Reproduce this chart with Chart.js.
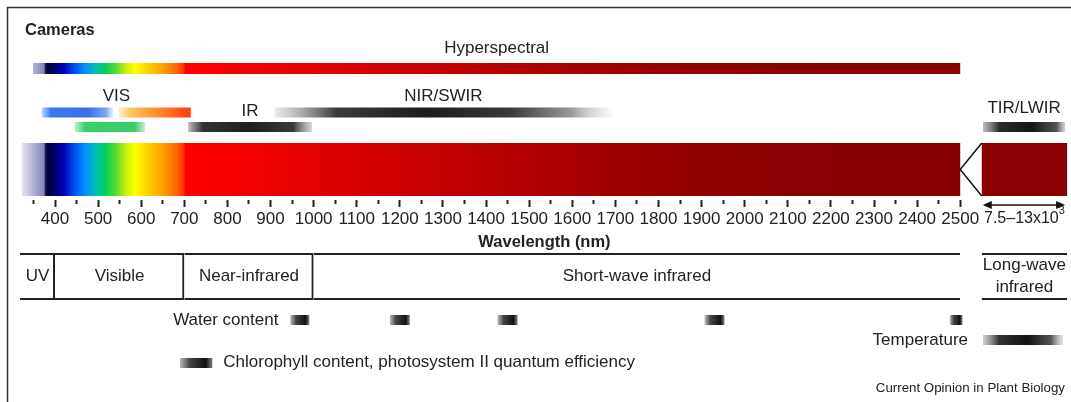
<!DOCTYPE html>
<html>
<head>
<meta charset="utf-8">
<script src="https://cdn.jsdelivr.net/npm/chart.js@4.4.0/dist/chart.umd.min.js"></script>
<style>
  html, body { margin: 0; padding: 0; background: #fff; }
  canvas { display: block; }
</style>
</head>
<body>
<canvas id="chart" width="1071" height="402"></canvas>
<script>
// ---- data (wavelengths in nm) ----
const cameraLabels = ['Hyperspectral', 'VIS', 'IR', 'NIR/SWIR', 'TIR/LWIR'];
const cameraBarGroup = [0, 1, 1, 1, 2, 3, 4];
const cameraBarStart = [349, 370, 446, 548, 709, 910, 7580];
const cameraBarEnd = [2500, 535, 609, 715, 996, 1692, 12870];

const spectrumRange = [323, 2500];
const lwirRange = [7500, 13000];

const regionLabels = ['UV', 'Visible', 'Near-infrared', 'Short-wave infrared', 'Long-wave\ninfrared'];
const regionStart = [319, 400, 700, 1000, 7500];
const regionEnd = [400, 700, 1000, 2500, 13000];

const waterStart = [946, 1177, 1427, 1907, 2476];
const waterEnd = [990, 1223, 1473, 1953, 2505];
const chlorophyllRange = [690, 765];
const temperatureRange = [7580, 12740];
const traitLabels = ['Water content', 'Chlorophyll content, photosystem II quantum efficiency', 'Temperature'];

const tickValues = [400, 500, 600, 700, 800, 900, 1000, 1100, 1200, 1300, 1400, 1500, 1600,
  1700, 1800, 1900, 2000, 2100, 2200, 2300, 2400, 2500];
const tickLabels = ['400', '500', '600', '700', '800', '900', '1000', '1100', '1200', '1300', '1400',
  '1500', '1600', '1700', '1800', '1900', '2000', '2100', '2200', '2300', '2400', '2500'];
const minorTickValues = [350, 450, 550, 650, 750, 850, 950, 1050, 1150, 1250, 1350, 1450, 1550,
  1650, 1750, 1850, 1950, 2050, 2150, 2250, 2350, 2450];
const lwirTickLabel = ['7.5\u201313x10', '3'];
const axisTitle = 'Wavelength (nm)';

// ---- layout / style ----
const FONT = "'Liberation Sans', Arial, Helvetica, sans-serif";
const FS = 17;
const INK = '#222';
const X_MIN = 272.4, X_MAX = 2757;
const LW_AXIS = [2550, 2748];           // where the 7.5-13 um panel sits on the axis
const ROW = { hyper: 68.5, camA: 112.5, camB: 127, spectrum: 169.5, axis: 200, table: 276.5,
  water: 320, temp: 340, chloro: 363 };
const camBarRow = [ROW.hyper, ROW.camA, ROW.camB, ROW.camA, ROW.camB, ROW.camA, ROW.camB];
const camLabelY = [48, 96, 111, 96, 108];

const spectrumStops = [
  [300, 'rgba(255,255,255,0)'], [323, '#e4e4ef'], [350, '#b2b2d4'], [374, '#8585b8'],
  [378, '#1c1c52'], [383, '#000036'], [400, '#00006e'], [420, '#0000b8'], [445, '#0050f0'],
  [470, '#0090ff'], [495, '#00c0b4'], [515, '#00cc60'], [540, '#50dc30'], [565, '#c8f010'],
  [585, '#ffff00'], [615, '#ffd000'], [650, '#ffa000'], [680, '#ff6a00'], [697, '#ff3800'],
  [703, '#ff0000'], [900, '#ee0000'], [1200, '#cc0000'], [1600, '#a80000'], [1900, '#900000'],
  [2100, '#8a0000'], [2500, '#880000']
];
const camFills = [
  null,
  [[0, 'rgba(90,150,255,0.45)'], [0.12, '#3b78f0'], [0.65, '#3a6fe8'], [0.9, '#7aa6f5'], [1, 'rgba(170,200,255,0.3)']],
  [[0, 'rgba(60,210,110,0.35)'], [0.15, '#3ccf6a'], [0.85, '#38cc66'], [1, 'rgba(60,210,110,0.3)']],
  [[0, 'rgba(255,225,160,0.5)'], [0.15, '#ffc860'], [0.55, '#ff8a2a'], [0.9, '#ff4a18'], [1, '#ff3a10']],
  [[0, 'rgba(60,60,60,0.35)'], [0.12, '#333'], [0.5, '#1e1e1e'], [0.85, '#3a3a3a'], [1, 'rgba(120,120,120,0.3)']],
  [[0, 'rgba(120,120,120,0.15)'], [0.18, '#3c3c3c'], [0.45, '#1c1c1c'], [0.7, '#3a3a3a'], [0.88, '#9a9a9a'], [1, 'rgba(230,230,230,0.3)']],
  [[0, 'rgba(90,90,90,0.4)'], [0.2, '#2a2a2a'], [0.6, '#151515'], [0.9, '#555'], [1, 'rgba(150,150,150,0.4)']]
];
const markFill = [[0, 'rgba(80,80,80,0.4)'], [0.3, '#444'], [0.8, '#111'], [1, 'rgba(40,40,40,0.6)']];
const tempFill = [[0, 'rgba(120,120,120,0.35)'], [0.2, '#333'], [0.55, '#111'], [0.85, '#555'], [1, 'rgba(170,170,170,0.3)']];

// map real nm onto the (broken) axis; everything in the thermal band goes to the right panel
function axisValue(nm) {
  if (nm < 5000) return nm;
  return LW_AXIS[0] + (nm - lwirRange[0]) / (lwirRange[1] - lwirRange[0]) * (LW_AXIS[1] - LW_AXIS[0]);
}

function makeGradient(chart, v0, v1, stops) {
  const x = chart.scales.x;
  if (!x) return null;
  const x0 = x.getPixelForValue(v0), x1 = x.getPixelForValue(v1);
  if (!isFinite(x0) || !isFinite(x1) || x0 === x1) return null;
  const g = chart.ctx.createLinearGradient(x0, 0, x1, 0);
  stops.forEach(([o, c]) => g.addColorStop(o, c));
  return g;
}

function spectrumGradient(chart) {
  const stops = spectrumStops.map(([nm, c]) => [(nm - 300) / 2200, c]);
  return makeGradient(chart, 300, 2500, stops) || '#cc0000';
}

function barGradient(ctx, stops) {
  if (!ctx.raw) return '#222';
  return makeGradient(ctx.chart, ctx.raw.x[0], ctx.raw.x[1], stops) || '#222';
}

const span = (s, e, y) => ({ x: [axisValue(s), axisValue(e)], y: y });

const datasets = [
  {
    label: 'spectrum',
    data: [span(spectrumRange[0], spectrumRange[1], ROW.spectrum), span(lwirRange[0], lwirRange[1], ROW.spectrum)],
    barThickness: 53,
    backgroundColor: ctx => ctx.dataIndex === 0 ? spectrumGradient(ctx.chart) : '#8a0000'
  },
  {
    label: 'hyperspectral',
    data: [span(cameraBarStart[0], cameraBarEnd[0], camBarRow[0])],
    barThickness: 11,
    backgroundColor: ctx => spectrumGradient(ctx.chart)
  },
  {
    label: 'cameras',
    data: cameraBarStart.slice(1).map((s, i) => span(s, cameraBarEnd[i + 1], camBarRow[i + 1])),
    barThickness: 10,
    backgroundColor: ctx => barGradient(ctx, camFills[ctx.dataIndex + 1] || camFills[1])
  },
  {
    label: 'regions',
    data: regionStart.map((s, i) => span(s, regionEnd[i], ROW.table)),
    barThickness: 47,
    backgroundColor: 'rgba(255,255,255,0)',
    borderColor: INK,
    borderSkipped: false,
    borderWidth: regionStart.map((s, i) => ({ top: 2, bottom: 2, left: 0, right: i < 3 ? 2 : 0 }))
  },
  {
    label: 'water',
    data: waterStart.map((s, i) => span(s, waterEnd[i], ROW.water)),
    barThickness: 10,
    backgroundColor: ctx => barGradient(ctx, markFill)
  },
  {
    label: 'chlorophyll',
    data: [span(chlorophyllRange[0], chlorophyllRange[1], ROW.chloro)],
    barThickness: 10,
    backgroundColor: ctx => barGradient(ctx, markFill)
  },
  {
    label: 'temperature',
    data: [span(temperatureRange[0], temperatureRange[1], ROW.temp)],
    barThickness: 10,
    backgroundColor: ctx => barGradient(ctx, tempFill)
  }
];
datasets.forEach(d => { d.grouped = false; d.inflateAmount = 0; });

function text(ctx, str, x, y, size, align, bold) {
  ctx.font = (bold ? 'bold ' : '') + size + 'px ' + FONT;
  ctx.textAlign = align || 'center';
  ctx.textBaseline = 'middle';
  ctx.fillStyle = INK;
  ctx.fillText(str, x, y);
}

const overlay = {
  id: 'overlay',
  afterDraw(chart) {
    const ctx = chart.ctx;
    const xs = chart.scales.x, ys = chart.scales.y;
    const px = nm => xs.getPixelForValue(axisValue(nm));
    const py = v => ys.getPixelForValue(v);
    ctx.save();

    // frame
    ctx.strokeStyle = '#333';
    ctx.lineWidth = 1.5;
    ctx.beginPath();
    ctx.moveTo(7.5, 402); ctx.lineTo(7.5, 7.5); ctx.lineTo(1071, 7.5);
    ctx.stroke();

    text(ctx, 'Cameras', 25, 30, 16.5, 'left', true);

    // camera labels, centred over their bars
    cameraLabels.forEach((lab, g) => {
      let lo = Infinity, hi = -Infinity;
      cameraBarGroup.forEach((gg, i) => {
        if (gg !== g) return;
        lo = Math.min(lo, px(cameraBarStart[i]));
        hi = Math.max(hi, px(cameraBarEnd[i]));
      });
      text(ctx, lab, (lo + hi) / 2, py(camLabelY[g]), FS);
    });

    // break marker between 2500 nm and the LWIR panel
    const top = py(ROW.spectrum - 26.5), bot = py(ROW.spectrum + 26.5);
    ctx.strokeStyle = '#111';
    ctx.lineWidth = 1.5;
    ctx.beginPath();
    ctx.moveTo(px(lwirRange[0]), top);
    ctx.lineTo(px(2500), py(ROW.spectrum));
    ctx.lineTo(px(lwirRange[0]), bot);
    ctx.stroke();

    // double arrow + label under the LWIR panel
    const ay = py(205), a0 = px(lwirRange[0]) + 1, a1 = px(lwirRange[1]) - 2;
    ctx.strokeStyle = '#111';
    ctx.lineWidth = 1.5;
    ctx.beginPath(); ctx.moveTo(a0 + 4, ay); ctx.lineTo(a1 - 4, ay); ctx.stroke();
    ctx.fillStyle = '#111';
    ctx.beginPath(); ctx.moveTo(a0, ay); ctx.lineTo(a0 + 9, ay - 4); ctx.lineTo(a0 + 9, ay + 4); ctx.fill();
    ctx.beginPath(); ctx.moveTo(a1, ay); ctx.lineTo(a1 - 9, ay - 4); ctx.lineTo(a1 - 9, ay + 4); ctx.fill();
    ctx.font = '16px ' + FONT;
    const w0 = ctx.measureText(lwirTickLabel[0]).width;
    ctx.font = '11px ' + FONT;
    const w1 = ctx.measureText(lwirTickLabel[1]).width;
    const lx = (px(lwirRange[0]) + px(lwirRange[1])) / 2 - (w0 + w1) / 2;
    text(ctx, lwirTickLabel[0], lx, py(219), 16, 'left');
    text(ctx, lwirTickLabel[1], lx + w0, py(211), 11, 'left');

    text(ctx, axisTitle, (px(spectrumRange[0]) + px(lwirRange[1])) / 2, py(242), 16.5, 'center', true);

    // region names
    regionLabels.forEach((lab, i) => {
      const cx = (px(regionStart[i]) + px(regionEnd[i])) / 2;
      const lines = lab.split('\n');
      lines.forEach((ln, k) => text(ctx, ln, cx, py(ROW.table + (k - (lines.length - 1) / 2) * 22), FS));
    });

    // trait labels
    text(ctx, traitLabels[0], px(waterStart[0]) - 12, py(ROW.water), FS, 'right');
    text(ctx, traitLabels[1], px(chlorophyllRange[1]) + 11, py(ROW.chloro - 1), FS, 'left');
    text(ctx, traitLabels[2], px(temperatureRange[0]) - 15, py(ROW.temp), FS, 'right');

    text(ctx, 'Current Opinion in Plant Biology', 1065, py(388), 13.3, 'right');
    ctx.restore();
  }
};

new Chart(document.getElementById('chart'), {
  type: 'bar',
  data: { datasets: datasets },
  options: {
    indexAxis: 'y',
    responsive: false,
    devicePixelRatio: 1,
    animation: false,
    layout: { padding: 0, autoPadding: false },
    plugins: { legend: { display: false }, tooltip: { enabled: false } },
    scales: {
      y: { type: 'linear', min: 0, max: 402, reverse: true, offset: false, display: false },
      x: {
        type: 'linear', min: X_MIN, max: X_MAX,
        position: { y: ROW.axis },
        border: { display: false },
        grid: { drawOnChartArea: false, drawTicks: true, tickLength: 7, tickWidth: 2, tickColor: INK },
        ticks: {
          autoSkip: false, maxRotation: 0, padding: 2, color: INK,
          font: { family: FONT, size: FS },
          callback: v => { const i = tickValues.indexOf(v); return i < 0 ? '' : tickLabels[i]; }
        },
        afterBuildTicks: s => { s.ticks = tickValues.map(v => ({ value: v })); }
      },
      x2: {
        type: 'linear', axis: 'x', min: X_MIN, max: X_MAX,
        position: { y: ROW.axis },
        border: { display: false },
        grid: { drawOnChartArea: false, drawTicks: true, tickLength: 4, tickWidth: 2, tickColor: INK },
        ticks: { display: false, autoSkip: false },
        afterBuildTicks: s => { s.ticks = minorTickValues.map(v => ({ value: v })); }
      }
    }
  },
  plugins: [overlay]
});
</script>
</body>
</html>
